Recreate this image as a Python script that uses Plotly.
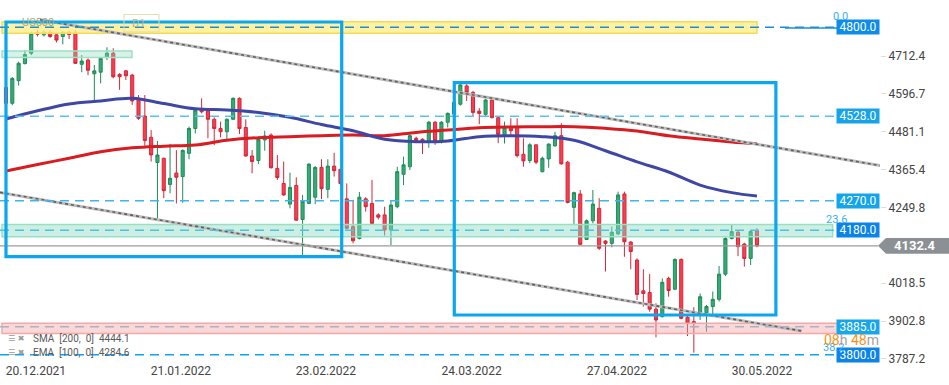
import plotly.graph_objects as go

# ---------------- data ----------------
opens = [4616, 4568, 4637, 4689, 4721, 4785, 4777, 4785, 4777, 4772,
         4785, 4785, 4687, 4700, 4658, 4663, 4708, 4721, 4656, 4667,
         4654, 4583, 4529, 4464, 4387, 4400, 4320, 4355, 4344, 4415,
         4491, 4549, 4545, 4519, 4491, 4481, 4519, 4583, 4494, 4407,
         4393, 4456, 4471, 4369, 4323, 4260, 4317, 4213, 4262, 4281,
         4372, 4305, 4376, 4366, 4276, 4191, 4155, 4276, 4262, 4227,
         4227, 4181, 4252, 4351, 4374, 4461, 4458, 4451, 4510, 4451,
         4510, 4535, 4565, 4621, 4601, 4544, 4534, 4578, 4524, 4471,
         4497, 4497, 4412, 4393, 4441, 4359, 4398, 4438, 4469, 4388,
         4250, 4291, 4152, 4209, 4247, 4147, 4140, 4169, 4291, 4144,
         4089, 3995, 3990, 3939, 3916, 4033, 4000, 4091, 3914, 3901,
         3926, 3928, 3947, 3969, 4046, 4155, 4174, 4138, 4094, 4179]
highs = [4625, 4648, 4695, 4731, 4787, 4792, 4792, 4792, 4782, 4789,
         4790, 4792, 4715, 4705, 4685, 4707, 4739, 4736, 4660, 4670,
         4658, 4593, 4593, 4486, 4453, 4402, 4444, 4425, 4427, 4497,
         4552, 4583, 4550, 4525, 4512, 4522, 4586, 4586, 4519, 4425,
         4466, 4484, 4476, 4410, 4390, 4356, 4342, 4288, 4385, 4376,
         4397, 4397, 4417, 4369, 4323, 4273, 4297, 4281, 4334, 4232,
         4252, 4270, 4374, 4405, 4473, 4466, 4461, 4514, 4514, 4514,
         4540, 4575, 4627, 4626, 4606, 4553, 4581, 4581, 4527, 4512,
         4522, 4522, 4461, 4446, 4442, 4405, 4446, 4481, 4507, 4392,
         4298, 4303, 4213, 4303, 4278, 4150, 4191, 4298, 4298, 4147,
         4094, 4061, 4046, 3957, 4033, 4038, 4094, 4094, 3921, 3945,
         3987, 3952, 3993, 4071, 4159, 4196, 4179, 4142, 4181, 4186]
lows = [4560, 4562, 4622, 4687, 4715, 4772, 4772, 4768, 4754, 4748,
        4764, 4688, 4663, 4654, 4573, 4629, 4700, 4644, 4609, 4639,
        4563, 4517, 4438, 4390, 4214, 4278, 4293, 4262, 4264, 4397,
        4476, 4537, 4461, 4440, 4464, 4456, 4517, 4474, 4405, 4354,
        4382, 4423, 4369, 4334, 4285, 4247, 4209, 4101, 4260, 4260,
        4275, 4278, 4344, 4315, 4183, 4140, 4152, 4237, 4199, 4213,
        4164, 4135, 4247, 4318, 4364, 4451, 4413, 4432, 4441, 4445,
        4494, 4532, 4561, 4575, 4527, 4504, 4527, 4522, 4446, 4445,
        4471, 4402, 4374, 4385, 4382, 4357, 4371, 4435, 4380, 4262,
        4196, 4135, 4150, 4201, 4120, 4054, 4128, 4166, 4099, 4061,
        3967, 3947, 3931, 3853, 3914, 3977, 3997, 3908, 3857, 3806,
        3906, 3870, 3916, 3962, 4040, 4152, 4101, 4069, 4074, 4128]
closes = [4568, 4644, 4690, 4717, 4782, 4779, 4785, 4772, 4761, 4785,
          4778, 4690, 4697, 4669, 4667, 4705, 4721, 4649, 4649, 4652,
          4575, 4522, 4454, 4410, 4410, 4301, 4339, 4342, 4424, 4491,
          4547, 4542, 4519, 4491, 4481, 4519, 4583, 4491, 4407, 4390,
          4458, 4468, 4371, 4341, 4288, 4311, 4211, 4268, 4382, 4372,
          4307, 4376, 4362, 4323, 4186, 4148, 4281, 4252, 4201, 4220,
          4181, 4257, 4359, 4380, 4469, 4454, 4451, 4510, 4453, 4510,
          4537, 4571, 4624, 4601, 4540, 4537, 4578, 4524, 4473, 4494,
          4484, 4408, 4392, 4441, 4388, 4400, 4443, 4469, 4383, 4265,
          4295, 4137, 4209, 4260, 4125, 4140, 4174, 4288, 4145, 4115,
          3984, 3987, 3939, 3906, 4021, 3996, 4091, 3911, 3896, 3896,
          3977, 3947, 3969, 4046, 4155, 4176, 4130, 4094, 4176, 4132.4]
bars = list(range(len(closes)))

ma_bars = [0, 5, 10, 15, 20, 25, 30, 35, 40, 45, 50, 55, 60, 65, 70, 75,
           80, 85, 90, 95, 100, 105, 110, 115, 119]
sma200 = [4361, 4381, 4400, 4420, 4432, 4437, 4440.5, 4455, 4463, 4466,
          4469, 4471, 4469, 4479, 4486, 4493, 4495.5, 4496.4, 4496.4,
          4491.5, 4483.5, 4469, 4459, 4450, 4444.1]
ema100 = [4520, 4545, 4566, 4575, 4583, 4567, 4551, 4547.5, 4540, 4525,
          4503, 4484, 4458, 4450.6, 4452.8, 4466, 4468.6, 4466, 4455,
          4423, 4389, 4358, 4318, 4295, 4284.6]

xtick_pos = [4.75, 27.7, 50.7, 73.8, 96.8, 119.8]
xtick_text = ["20.12.2021", "21.01.2022", "23.02.2022", "24.03.2022",
              "27.04.2022", "30.05.2022"]
ytick_vals = [4712.4, 4596.7, 4481.1, 4365.4, 4249.8, 4018.5, 3902.8, 3787.2]
ytick_text = ["4712.4", "4596.7", "4481.1", "4365.4", "4249.8", "4018.5",
              "3902.8", "3787.2"]

last_price = 4132.4
level_values = [4800.0, 4528.0, 4270.0, 4180.0, 3885.0, 3800.0]
level_labels = ["4800.0", "4528.0", "4270.0", "4180.0", "3885.0", "3800.0"]
fib_labels = ["0.0", "23.6", "38.2"]
fib_levels = [4831.6, 4212.0, 3821.9]

# zones: (x0, x1, y0, y1) in bar/price units
yellow_zone = [-0.63, 119.0, 4782, 4817]
mint_small_zone = [-0.63, 19.97, 4708, 4728]
mint_zone = [-0.63, 131.0, 4160, 4198]
pink_zone = [-0.63, 132.2, 3865, 3896]
box_left = [0.0, 53.2, 4099.3, 4816.3]
box_right = [71.04, 122.0, 3921.2, 4630.8]
channel_upper = [5.4, 4823.0, 138.5, 4377.6]
channel_lower = [-0.95, 4295.7, 126.1, 3872.3]

# ---------------- figure ----------------
W, H = 949, 385
PLOT_W = 880
XR = [-0.95, 138.5]
YR = [3777.6, 4846.8]


def px(x):
    return x / PLOT_W


fig = go.Figure()
fig.add_trace(go.Candlestick(
    x=bars, open=opens, high=highs, low=lows, close=closes,
    whiskerwidth=0,
    increasing=dict(line=dict(color="#1f8b58", width=1), fillcolor="#35ab76"),
    decreasing=dict(line=dict(color="#d0283a", width=1), fillcolor="#fc3d50"),
    hoverinfo="skip", showlegend=False))
fig.add_trace(go.Scatter(x=ma_bars, y=sma200, mode="lines",
                         line=dict(color="#d81c22", width=3, shape="spline"),
                         hoverinfo="skip", showlegend=False))
fig.add_trace(go.Scatter(x=ma_bars, y=ema100, mode="lines",
                         line=dict(color="#3f47a5", width=3, shape="spline"),
                         hoverinfo="skip", showlegend=False))

shapes = []


def zone(z, fill, border):
    shapes.append(dict(type="rect", xref="x", yref="y", x0=z[0], x1=z[1],
                       y0=z[2], y1=z[3], fillcolor=fill,
                       line=dict(color=border, width=1.5), layer="above"))


zone(yellow_zone, "rgba(255,238,140,0.82)", "#f2dc55")
zone(mint_small_zone, "rgba(140,220,190,0.35)", "#9fe0c6")
zone(mint_zone, "rgba(140,220,190,0.45)", "#99dfc3")
zone(pink_zone, "rgba(248,160,160,0.42)", "#f2a9a9")

# channel lines
for c in (channel_upper, channel_lower):
    shapes.append(dict(type="line", xref="x", yref="y", x0=c[0], y0=c[1],
                       x1=c[2], y1=c[3], line=dict(color="#bdbdbd", width=3),
                       layer="above"))
    shapes.append(dict(type="line", xref="x", yref="y", x0=c[0], y0=c[1],
                       x1=c[2], y1=c[3],
                       line=dict(color="#606060", width=1.6, dash="3px,3px"),
                       layer="above"))

# horizontal level lines
line_cols = ["#1b8fd6", "#58c1f2", "#3cb5f0", "#4cc2e6", "#a7b2c9", "#0ea3f0"]
for lv, col in zip(level_values, line_cols):
    shapes.append(dict(type="line", xref="paper", yref="y", x0=0,
                       x1=px(838), y0=lv, y1=lv,
                       line=dict(color=col, width=1.5, dash="9px,6px"),
                       layer="above"))
shapes.append(dict(type="line", xref="paper", yref="y", x0=px(785),
                   x1=px(838), y0=4798, y1=4798,
                   line=dict(color="#1b8fd6", width=1.5), layer="above"))

# last price line
shapes.append(dict(type="line", xref="paper", yref="y", x0=0, x1=px(878),
                   y0=last_price, y1=last_price,
                   line=dict(color="#9c9c9c", width=1.2), layer="above"))

# blue rectangles
for b in (box_left, box_right):
    shapes.append(dict(type="rect", xref="x", yref="y", x0=b[0], x1=b[1],
                       y0=b[2], y1=b[3], fillcolor="rgba(0,0,0,0)",
                       line=dict(color="#0aa6ee", width=3.2), layer="above"))

# gray price tag
hh = 24.0
tag_path = (f"M {px(878)},{last_price} L {px(886)},{last_price + hh} "
            f"L {px(949)},{last_price + hh} L {px(949)},{last_price - hh} "
            f"L {px(886)},{last_price - hh} Z")
shapes.append(dict(type="path", xref="paper", yref="y", path=tag_path,
                   fillcolor="#8b9095", line=dict(width=0), layer="above"))

# D1 box
shapes.append(dict(type="rect", xref="paper", yref="y", x0=px(124),
                   x1=px(159), y0=4786, y1=4839,
                   line=dict(color="#e3dcb0", width=1),
                   fillcolor="rgba(0,0,0,0)", layer="above"))

annotations = []
box_cols = ["#0d8de9", "#16a3e7", "#12a5ec", "#0a84e8", "#15a6ec", "#0a84e8"]
for lv, lab, col in zip(level_values, level_labels, box_cols):
    annotations.append(dict(xref="paper", yref="y", x=1.0, y=lv,
                            xanchor="right", yanchor="middle", text=lab,
                            showarrow=False, bgcolor=col, width=40, height=12,
                            borderpad=1,
                            font=dict(family="Roboto", size=12, color="white")))
annotations.append(dict(xref="paper", yref="y", x=px(915), y=last_price,
                        xanchor="center", yanchor="middle",
                        text="<b>4132.4</b>", showarrow=False,
                        font=dict(family="Roboto", size=13, color="white")))
fib_x = [840, 836, 833]
for fx, fl, ft in zip(fib_x, fib_levels, fib_labels):
    annotations.append(dict(xref="paper", yref="y", x=px(fx), y=fl,
                            xanchor="center", yanchor="middle", text=ft,
                            showarrow=False,
                            font=dict(family="Roboto", size=11,
                                      color="#3aaff0")))
annotations.append(dict(
    xref="paper", yref="y", x=px(851), y=3844.8, xanchor="center",
    yanchor="middle", showarrow=False,
    text=('<span style="color:#f7941d">08</span>'
          '<span style="color:#a3a3a3">h</span> '
          '<span style="color:#f7941d">48</span>'
          '<span style="color:#a3a3a3">m</span>'),
    font=dict(family="Roboto", size=14)))

legend_rows = [("SMA  [200,  0]  4444.1", 3847.9),
               ("EMA  [100,  0]  4284.6", 3808.1)]
for txt, ly in legend_rows:
    annotations.append(dict(xref="paper", yref="y", x=px(31), y=ly,
                            xanchor="left", yanchor="middle", text=txt,
                            showarrow=False,
                            font=dict(family="Roboto", size=10,
                                      color="#5a5a5a")))
    annotations.append(dict(xref="paper", yref="y", x=px(6), y=ly,
                            xanchor="left", yanchor="middle",
                            text="☰ ✖", showarrow=False,
                            font=dict(family="DejaVu Sans", size=8,
                                      color="#9a9a9a")))

annotations.append(dict(xref="paper", yref="y", x=px(20), y=4816,
                        xanchor="left", yanchor="middle", text="US500",
                        showarrow=False,
                        font=dict(family="Roboto", size=11,
                                  color="#b0a878")))
annotations.append(dict(xref="paper", yref="y", x=px(130), y=4813,
                        xanchor="left", yanchor="middle", text="D1",
                        showarrow=False,
                        font=dict(family="Roboto", size=11,
                                  color="#bdb48a")))

fig.update_layout(
    width=W, height=H,
    margin=dict(l=0, r=W - PLOT_W, t=12, b=23),
    paper_bgcolor="white", plot_bgcolor="white",
    shapes=shapes, annotations=annotations,
    showlegend=False,
    font=dict(family="Roboto", color="#444"),
    xaxis=dict(range=XR, showgrid=False, zeroline=False, showline=False,
               tickvals=xtick_pos, ticktext=xtick_text, ticks="",
               tickfont=dict(family="Roboto", size=12, color="#444"),
               rangeslider=dict(visible=False), fixedrange=True,
               automargin=False),
    yaxis=dict(range=YR, side="right", showgrid=False, zeroline=False,
               showline=False, tickvals=ytick_vals, ticktext=ytick_text,
               ticks="outside", ticklen=5, tickcolor="#dddddd",
               tickfont=dict(family="Roboto", size=12, color="#444"),
               fixedrange=True, automargin=False),
)

fig.write_html("out.html", config={"displayModeBar": False},
               post_script="document.body.style.margin='0';")
